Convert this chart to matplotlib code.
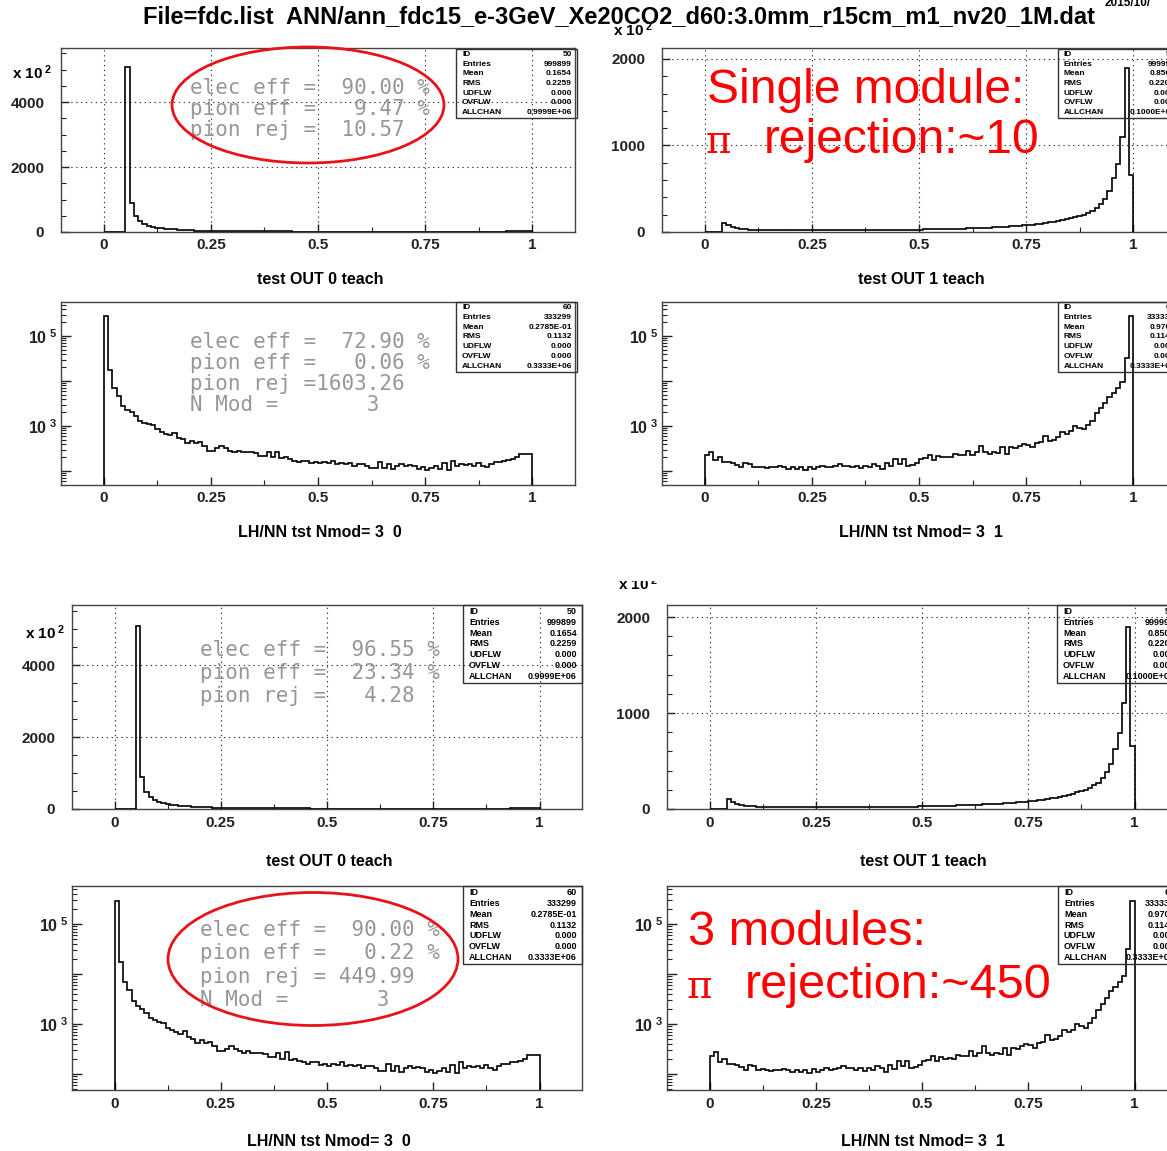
import numpy as np
import matplotlib
matplotlib.use('Agg')
import matplotlib.pyplot as plt
from matplotlib.patches import Rectangle, Ellipse
from matplotlib.ticker import FixedLocator, FixedFormatter, NullFormatter
from matplotlib.transforms import Bbox

# ---------------- data ----------------
edges = np.linspace(0.0, 1.0, 101)

# test OUT 0 teach (units of 10^2)
out0 = [0, 0, 0, 0, 0, 5077, 890, 480, 330, 250,
        195, 160, 135, 115, 100, 88, 78, 70, 62, 56,
        50, 45, 42, 38, 35, 33, 30, 28, 26, 25,
        24, 23, 22, 21, 20, 20, 19, 19, 18, 18,
        17, 17, 16, 16, 15, 15, 13, 13, 12, 12,
        12, 11, 11, 11, 11, 10, 10, 10, 10, 10,
        10, 10, 9, 9, 9, 9, 9, 9, 9, 9,
        9, 9, 9, 9, 9, 9, 9, 9, 9, 9,
        9, 9, 9, 9, 9, 10, 10, 10, 10, 10,
        11, 12, 13, 15, 18, 25, 30, 35, 38, 40]

# test OUT 1 teach (units of 10^2)
out1 = [0, 0, 0, 0, 104, 77, 55, 42, 35, 30,
        28, 26, 25, 24, 23, 22, 22, 21, 21, 20,
        20, 20, 20, 19, 19, 19, 19, 19, 20, 20,
        20, 20, 21, 21, 21, 22, 22, 22, 23, 23,
        22, 22, 23, 23, 24, 24, 25, 26, 26, 27,
        28, 29, 30, 31, 32, 33, 34, 35, 37, 38,
        40, 42, 44, 46, 48, 50, 52, 54, 56, 58,
        60, 64, 68, 72, 76, 80, 85, 90, 96, 103,
        110, 118, 127, 137, 148, 160, 172, 185, 200, 220,
        245, 275, 320, 385, 470, 620, 790, 1100, 1900, 660]

# LH/NN tst Nmod= 3  0
lh0 = [285000, 17600, 6950, 4720, 2850, 2240, 2040, 1660, 1290, 1180,
       1090, 1035, 845, 750, 680, 632, 710, 550, 510, 415,
       470, 415, 445, 365, 282, 282, 318, 365, 318, 282,
       258, 282, 258, 258, 258, 246, 218, 218, 258, 200,
       270, 190, 200, 185, 170, 161, 170, 170, 154, 161,
       147, 161, 154, 170, 143, 154, 143, 154, 131, 143,
       143, 131, 117, 117, 161, 117, 143, 112, 131, 143,
       131, 137, 131, 112, 121, 103, 115, 131, 112, 154,
       103, 170, 131, 143, 137, 143, 131, 154, 131, 121,
       143, 161, 161, 170, 175, 185, 200, 240, 240, 240]

# LH/NN tst Nmod= 3  1
lh1 = [231, 270, 176, 200, 161, 161, 154, 137, 121, 154,
       143, 121, 125, 121, 115, 121, 121, 128, 121, 112,
       121, 112, 121, 107, 125, 112, 121, 131, 121, 125,
       131, 143, 131, 131, 121, 131, 117, 131, 121, 143,
       131, 112, 154, 128, 185, 143, 185, 131, 137, 154,
       185, 190, 231, 178, 218, 200, 210, 200, 240, 225,
       231, 282, 231, 258, 365, 258, 240, 258, 246, 333,
       240, 333, 320, 365, 397, 378, 333, 410, 445, 600,
       470, 490, 575, 750, 680, 770, 1000, 920, 845, 1035,
       1290, 1900, 2500, 3300, 4500, 5500, 7000, 9300, 32000, 285000]

xtick_vals = [0, 0.25, 0.5, 0.75, 1]
xtick_labels = ['0', '0.25', '0.5', '0.75', '1']

stat_names = ['ID', 'Entries', 'Mean', 'RMS', 'UDFLW', 'OVFLW', 'ALLCHAN']
stat_out0 = ['50', '999899', '0.1654', '0.2259', '0.000', '0.000', '0.9999E+06']
stat_out1 = ['51', '999999', '0.8506', '0.2205', '0.000', '0.000', '0.1000E+07']
stat_lh0 = ['60', '333299', '0.2785E-01', '0.1132', '0.000', '0.000', '0.3333E+06']
stat_lh1 = ['61', '333333', '0.9705', '0.1148', '0.000', '0.000', '0.3333E+06']

txt_top_out0 = ['elec eff =  90.00 %', 'pion eff =   9.47 %', 'pion rej =  10.57']
txt_top_lh0 = ['elec eff =  72.90 %', 'pion eff =   0.06 %', 'pion rej =1603.26', 'N Mod =       3']
txt_bot_out0 = ['elec eff =  96.55 %', 'pion eff =  23.34 %', 'pion rej =   4.28']
txt_bot_lh0 = ['elec eff =  90.00 %', 'pion eff =   0.22 %', 'pion rej = 449.99', 'N Mod =       3']

title = 'File=fdc.list  ANN/ann_fdc15_e-3GeV_Xe20CO2_d60:3.0mm_r15cm_m1_nv20_1M.dat'

# ---------------- figure ----------------
W, H = 1167, 1151
plt.rcParams['font.family'] = ['Liberation Sans', 'DejaVu Sans']
plt.rcParams['font.weight'] = 'bold'
plt.rcParams['mathtext.fontset'] = 'custom'
plt.rcParams['mathtext.rm'] = 'Liberation Sans:bold'
plt.rcParams['mathtext.bf'] = 'Liberation Sans:bold'
plt.rcParams['mathtext.it'] = 'Liberation Sans:bold'
plt.rcParams['mathtext.default'] = 'bf'

fig = plt.figure(figsize=(W / 100, H / 100), dpi=100)


def fx(x):
    return x / W


def fy(y):
    return 1 - y / H


def make_axes(l, r, t, b):
    return fig.add_axes([l / W, 1 - b / H, (r - l) / W, (b - t) / H])


def style_common(ax, xpad):
    ax.set_xlim(-0.1, 1.1)
    ax.xaxis.set_major_locator(FixedLocator(xtick_vals))
    ax.xaxis.set_major_formatter(FixedFormatter(xtick_labels))
    ax.xaxis.set_minor_locator(FixedLocator([0.125, 0.375, 0.625, 0.875]))
    ax.tick_params(which='both', direction='in', top=False, right=False, colors='#222')
    ax.tick_params(axis='x', which='major', length=6, width=1, labelsize=11, pad=xpad)
    ax.tick_params(axis='x', which='minor', length=3.5, width=0.8)
    for s in ax.spines.values():
        s.set_color('#444')
        s.set_linewidth(1.0)


def linear_panel(box, counts, ytop, ymaj, ymin, ypad, xpad):
    ax = make_axes(*box)
    ax.stairs(counts, edges, baseline=0, color='black', lw=1.2, zorder=3)
    ax.set_ylim(0, ytop)
    style_common(ax, xpad)
    ax.yaxis.set_major_locator(FixedLocator(ymaj))
    ax.yaxis.set_major_formatter(FixedFormatter([str(v) for v in ymaj]))
    ax.yaxis.set_minor_locator(FixedLocator(ymin))
    ax.tick_params(axis='y', which='major', length=6, width=1, labelsize=11, pad=ypad)
    ax.tick_params(axis='y', which='minor', length=3.5, width=0.8)
    ax.grid(True, which='major', linestyle=(0, (1.2, 3.2)), color='#333', lw=0.8)
    for lab in ax.get_xticklabels() + ax.get_yticklabels():
        lab.set_fontweight('bold')
    return ax


def log_panel(box, counts, ylo, yhi, ypad, xpad):
    ax = make_axes(*box)
    ax.set_yscale('log')
    ax.stairs(counts, edges, baseline=1.0, color='black', lw=1.2, zorder=3)
    ax.set_ylim(10 ** ylo, 10 ** yhi)
    style_common(ax, xpad)
    ax.yaxis.set_major_locator(FixedLocator([1e2, 1e3, 1e4, 1e5]))
    ax.yaxis.set_major_formatter(FixedFormatter(['', r'10$^{\ 3}$', '', r'10$^{\ 5}$']))
    mins = [m * 10 ** d for d in range(1, 6) for m in range(2, 10)]
    ax.yaxis.set_minor_locator(FixedLocator(mins))
    ax.yaxis.set_minor_formatter(NullFormatter())
    ax.tick_params(axis='y', which='major', length=7, width=1, labelsize=11.5, pad=ypad)
    ax.tick_params(axis='y', which='minor', length=3.5, width=0.8)
    ax.grid(False)
    for lab in ax.get_xticklabels() + ax.get_yticklabels():
        lab.set_fontweight('bold')
    return ax


def stats_box(l, r, t, b, values, fs):
    fig.patches.append(Rectangle((fx(l), fy(b)), (r - l) / W, (b - t) / H,
                                 transform=fig.transFigure, fill=False,
                                 ec='#333', lw=1.0, zorder=5))
    n = len(stat_names)
    for i, (lab, val) in enumerate(zip(stat_names, values)):
        yc = t + 1 + (i + 0.5) * (b - t - 2) / n
        fig.text(fx(l + 6), fy(yc), lab, fontsize=fs, fontweight='bold', va='center', ha='left', zorder=6)
        fig.text(fx(r - 5), fy(yc), val, fontsize=fs, fontweight='bold', va='center', ha='right', zorder=6)


def grey_lines(x, ys, lines):
    for y, s in zip(ys, lines):
        fig.text(fx(x), fy(y), s, family=['DejaVu Sans Mono'], fontweight='normal',
                 fontsize=15, color='#979797', va='center', ha='left', zorder=6)


def xlabel(x, y, s):
    fig.text(fx(x), fy(y), s, fontsize=11.5, fontweight='bold', ha='center', va='center')


def mult(x, y, clip_top=None):
    t = fig.text(fx(x), fy(y), r'x 10$^{\ 2}$', fontsize=11, fontweight='bold', ha='left', va='center')
    if clip_top is not None:
        t.set_clip_box(Bbox.from_extents(0, 0, W, H - clip_top))
        t.set_clip_on(True)


def red_block(x, y1, line1, y2, line2, fs):
    fig.text(fx(x), fy(y1), line1, fontsize=fs, fontweight='normal', color='#ff0000',
             ha='left', va='baseline', zorder=7)
    fig.text(fx(x - 1), fy(y2), '\u03c0', family=['DejaVu Serif'], fontsize=28, fontweight='normal',
             color='#ff0000', ha='left', va='baseline', zorder=7)
    fig.text(fx(x + 57), fy(y2), line2, fontsize=fs, fontweight='normal', color='#ff0000',
             ha='left', va='baseline', zorder=7)


# ---------------- top canvas ----------------
fig.text(fx(619), fy(17), title, fontsize=17, fontweight='bold', ha='center', va='center')
fig.text(fx(1105), fy(3), '2015/10/', fontsize=8.5, fontweight='bold', ha='left', va='center')

linear_panel((61, 575, 48, 232), out0, 5662, [0, 2000, 4000],
             list(range(500, 5662, 500)), 12, 4)
linear_panel((662, 1176, 48, 232), out1, 2127, [0, 1000, 2000],
             list(range(200, 2127, 200)), 12, 4)
log_panel((61, 575, 302, 485), lh0, 1.689, 5.756, 3, 4)
log_panel((662, 1176, 302, 485), lh1, 1.689, 5.756, 3, 4)

mult(12, 73)
mult(613, 30)

stats_box(456, 577, 49, 118, stat_out0, 6)
stats_box(1058, 1180, 49, 118, stat_out1, 6)
stats_box(456, 577, 302, 372, stat_lh0, 6)
stats_box(1058, 1180, 302, 372, stat_lh1, 6)

grey_lines(190, [88, 109, 130], txt_top_out0)
grey_lines(190, [342, 363, 384, 405], txt_top_lh0)

fig.patches.append(Ellipse((fx(308), fy(105)), 272 / W, 116 / H, transform=fig.transFigure,
                           fill=False, ec='#e8121a', lw=2.0, zorder=7))

red_block(707, 103, 'Single module:', 153, 'rejection:~10', 34.5)

xlabel(320, 279, 'test OUT 0 teach')
xlabel(921, 279, 'test OUT 1 teach')
xlabel(320, 532, 'LH/NN tst Nmod= 3  0')
xlabel(921, 532, 'LH/NN tst Nmod= 3  1')

# ---------------- bottom canvas ----------------
linear_panel((72, 582, 605, 809), out0, 5667, [0, 2000, 4000],
             list(range(500, 5667, 500)), 12, 5)
linear_panel((667, 1177, 605, 809), out1, 2125, [0, 1000, 2000],
             list(range(200, 2125, 200)), 12, 5)
log_panel((72, 582, 886, 1090), lh0, 1.68, 5.76, 3, 5)
log_panel((667, 1177, 886, 1090), lh1, 1.68, 5.76, 3, 5)

mult(25, 633)
mult(618, 584, clip_top=581)

stats_box(463, 582, 605, 683, stat_out0, 6.5)
stats_box(1057, 1180, 605, 683, stat_out1, 6.5)
stats_box(463, 582, 886, 964, stat_lh0, 6.5)
stats_box(1058, 1180, 886, 964, stat_lh1, 6.5)

grey_lines(200, [650, 673, 696], txt_bot_out0)
grey_lines(200, [930, 953, 977, 1000], txt_bot_lh0)

fig.patches.append(Ellipse((fx(313), fy(959)), 290 / W, 133 / H, transform=fig.transFigure,
                           fill=False, ec='#e8121a', lw=2.0, zorder=7))

red_block(688, 945, '3 modules:', 998, 'rejection:~450', 35)

xlabel(329, 861, 'test OUT 0 teach')
xlabel(923, 861, 'test OUT 1 teach')
xlabel(329, 1142, 'LH/NN tst Nmod= 3  0')
xlabel(923, 1142, 'LH/NN tst Nmod= 3  1')

fig.savefig('out.png', dpi=100)
